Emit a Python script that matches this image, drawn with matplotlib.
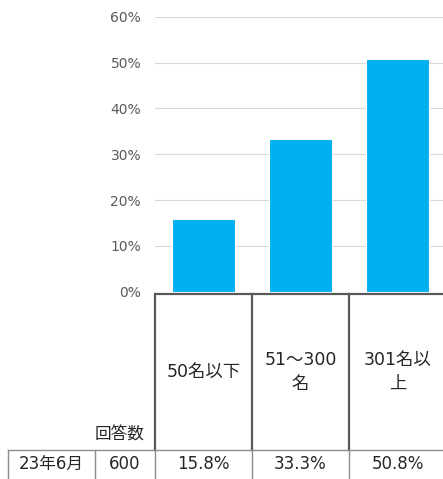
import matplotlib.pyplot as plt
from matplotlib import transforms

# Latin glyphs from DejaVu (close to the Verdana-like original), CJK from Noto
plt.rcParams['font.family'] = ['DejaVu Sans', 'Noto Sans CJK JP']

# data
categories = ['50名以下', '51～300\n名', '301名以\n上']
values = [15.8, 33.3, 50.8]
row_label = '23年6月'
n_answers = 600
y_ticks = [0, 10, 20, 30, 40, 50, 60]

bar_color = '#00B0F0'
axis_color = '#595959'
text_color = '#262626'

fig = plt.figure(figsize=(4.43, 4.79), dpi=100)
W, H = 443, 479

# chart area (extends a little past the right edge, like the original)
ax = fig.add_axes([155 / W, (H - 291.7) / H, 291 / W, 275 / H])
x = list(range(len(values)))
ax.bar(x, values, width=0.64, color=bar_color, edgecolor='white', linewidth=0.8, zorder=3)
ax.set_xlim(-0.5, 2.5)
ax.set_ylim(0, 60)
ax.set_yticks(y_ticks)
ax.set_yticklabels([f'{t}%' for t in y_ticks], color=axis_color, fontsize=10)
ax.tick_params(axis='y', length=0, pad=10)
ax.set_xticks([])
ax.yaxis.grid(True, color='#d9d9d9', linewidth=0.8)
ax.set_axisbelow(True)
for s in ax.spines.values():
    s.set_visible(False)

# overlay in pixel coordinates for the table under the chart
ov = fig.add_axes([0, 0, 1, 1])
ov.set_xlim(0, W)
ov.set_ylim(H, 0)
ov.axis('off')
ov.patch.set_alpha(0)
tr = transforms.blended_transform_factory(ax.transData, ov.transData)

axis_y = 294
header_bottom = 450
bounds = [i - 0.5 for i in range(len(values) + 1)]

# axis line + header column lines
ov.plot([155, W], [axis_y, axis_y], color=axis_color, lw=1.6, solid_capstyle='butt')
for b in bounds:
    ov.plot([b, b], [axis_y, header_bottom], color=axis_color, lw=1.6, transform=tr)

# category labels
for i, c in enumerate(categories):
    ov.text(i, 372, c, transform=tr, ha='center', va='center', fontsize=12.5,
            color=text_color, linespacing=1.4)

ov.text(145, 435, '回答数', ha='right', va='center', fontsize=12, color=text_color)

# data row
row_color = '#8c8c8c'
ov.plot([8, W], [header_bottom, header_bottom], color=row_color, lw=1)
for px in [8, 95]:
    ov.plot([px, px], [header_bottom, H], color=row_color, lw=1)
for b in bounds:
    ov.plot([b, b], [header_bottom, H], color=row_color, lw=1, transform=tr)

ov.text(51.5, 464, row_label, ha='center', va='center', fontsize=12, color=text_color)
ov.text(125, 464, str(n_answers), ha='center', va='center', fontsize=12, color=text_color)
for i, v in enumerate(values):
    ov.text(i, 464, f'{v:.1f}%', transform=tr, ha='center', va='center',
            fontsize=12, color=text_color)

fig.savefig('out.png', dpi=100)
